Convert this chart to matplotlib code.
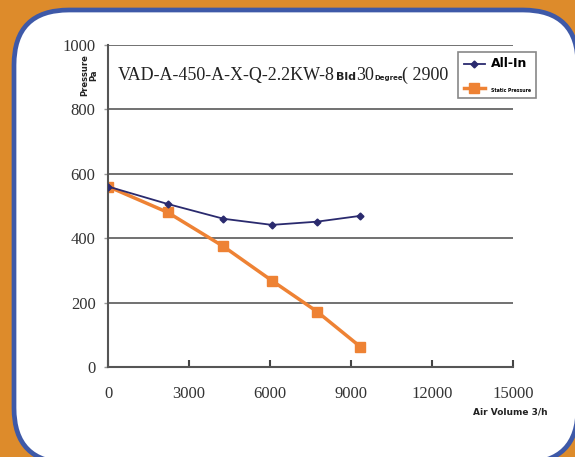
import matplotlib
matplotlib.use('Agg')
import matplotlib.pyplot as plt
from matplotlib.patches import FancyBboxPatch

# ------------------------
# Data
# ------------------------
all_in_x = [0, 2200, 4270, 6060, 7730, 9330]
all_in_y = [560, 506, 460, 441, 451, 469]
static_x = [0, 2200, 4270, 6060, 7730, 9330]
static_y = [560, 480, 374, 268, 172, 63]
x_ticks = [0, 3000, 6000, 9000, 12000, 15000]
y_ticks = [0, 200, 400, 600, 800, 1000]

orange_bg = '#DD8B2B'
blue_edge = '#3E59A8'
navy = '#2A2A6E'
orange = '#EE8234'
serif = ['Liberation Serif', 'DejaVu Serif']

fig = plt.figure(figsize=(5.75, 4.57), dpi=100)
fig.patch.set_facecolor(orange_bg)

# white rounded panel with blue border (bottom edge runs off the canvas)
panel = FancyBboxPatch((0.14, -0.06), 5.64, 4.53,
                       boxstyle='round,pad=0,rounding_size=0.55',
                       transform=fig.dpi_scale_trans,
                       facecolor='white', edgecolor=blue_edge,
                       linewidth=3.4, zorder=0)
fig.patches.append(panel)

ax = fig.add_axes([0.188, 0.197, 0.705, 0.705])
ax.set_zorder(2)
ax.set_facecolor('none')
ax.plot(all_in_x, all_in_y, color=navy, lw=1.3, marker='D',
        markersize=3.5, label='All-In', zorder=3)
ax.plot(static_x, static_y, color=orange, lw=2.5, marker='s',
        markersize=7, label='Static Pressure', zorder=2)

ax.set_xlim(0, 15000)
ax.set_ylim(0, 1000)
ax.set_xticks(x_ticks)
ax.set_yticks(y_ticks)
ax.set_xticklabels([str(v) for v in x_ticks], fontfamily=serif,
                   fontsize=12, color='#333333')
ax.set_yticklabels([str(v) for v in y_ticks], fontfamily=serif,
                   fontsize=12, color='#333333')
ax.tick_params(axis='x', direction='in', length=5, width=1.5,
               color='#444444', pad=14)
ax.tick_params(axis='y', direction='out', length=3, width=1,
               color='#999999', pad=6)
ax.yaxis.grid(True, color='#666666', lw=1.3)
ax.set_axisbelow(True)
for s in ['top', 'right']:
    ax.spines[s].set_visible(False)
for s in ['left', 'bottom']:
    ax.spines[s].set_color('#555555')
    ax.spines[s].set_linewidth(1.5)

# chart title inside the plot area
fig.text(0.204, 0.835, 'VAD-A-450-A-X-Q-2.2KW-8', fontfamily=serif,
         fontsize=13, color='#222222', va='center', zorder=3)
fig.text(0.584, 0.832, 'Bld', fontsize=8, fontweight='bold',
         color='#222222', va='center', zorder=3)
fig.text(0.619, 0.835, '30', fontfamily=serif, fontsize=13,
         color='#222222', va='center', zorder=3)
fig.text(0.651, 0.830, 'Degree', fontsize=5, fontweight='bold',
         color='#222222', va='center', zorder=3)
fig.text(0.700, 0.835, '( 2900', fontfamily=serif, fontsize=13,
         color='#222222', va='center', zorder=3)

fig.text(0.155, 0.835, 'Pressure\nPa', rotation=90, fontsize=6,
         fontweight='bold', ha='center', va='center',
         linespacing=0.9, color='#222222', zorder=3)
fig.text(0.887, 0.0985, 'Air Volume 3/h', fontsize=6.5, fontweight='bold',
         ha='center', va='center', color='#222222', zorder=3)

leg = ax.legend(loc='upper left', bbox_to_anchor=(0.864, 0.978),
                borderaxespad=0, frameon=True, fancybox=False,
                handlelength=1.9, borderpad=0.5, labelspacing=1.2,
                handletextpad=0.5, fontsize=8, framealpha=1)
leg.get_frame().set_edgecolor('#888888')
leg.get_frame().set_linewidth(1.2)
leg.set_zorder(5)
texts = leg.get_texts()
texts[0].set_fontweight('bold')
texts[0].set_fontsize(9)
texts[1].set_fontweight('bold')
texts[1].set_fontsize(3.3)

fig.savefig('out.png', dpi=100, facecolor=fig.get_facecolor())
